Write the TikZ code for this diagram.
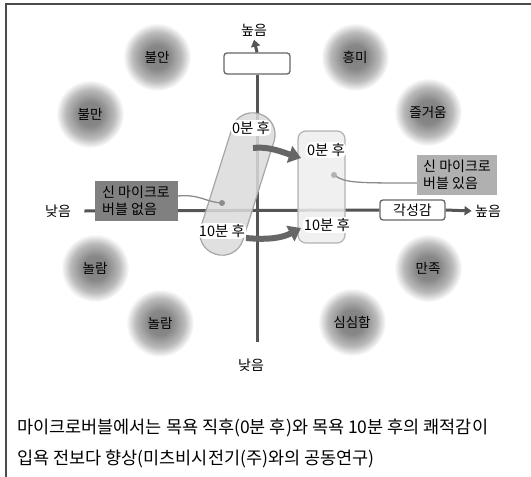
\documentclass[tikz,border=0pt]{standalone}
\usepackage{fontspec}
\setmainfont{Noto Sans CJK KR}
\usetikzlibrary{arrows.meta,shapes.misc}
\pgfdeclareradialshading{blob}{\pgfpointorigin}{color(0bp)=(black!50); color(9bp)=(black!47); color(18bp)=(black!27); color(25bp)=(white); color(50bp)=(white)}
\definecolor{axisc}{HTML}{555555}
\definecolor{darkbox}{HTML}{808080}
\definecolor{lightbox}{HTML}{B0B0B0}
\begin{document}
\begin{tikzpicture}[x=1pt,y=-1pt,
  emo/.style={circle,minimum size=68pt,inner sep=0pt,shading=blob,font=\fontsize{13.5}{15}\selectfont},
  axisline/.style={line width=3pt,draw=axisc},
  wbox/.style={draw=black!60,line width=1.3pt,fill=white,rounded corners=3pt,inner sep=0pt},
  tlabel/.style={fill=white,rounded corners=6pt,inner sep=1.2pt,font=\fontsize{14.5}{16}\selectfont},
  note/.style={inner sep=2pt,align=left,text=black,font=\fontsize{14}{17}\selectfont},
  bigarrow/.style={line width=6pt,draw=black!60,-{Triangle[length=12pt,width=17pt]}},
  pointer/.style={draw=black!45,line width=1.3pt},
  txt/.style={font=\fontsize{14}{16}\selectfont}]
\useasboundingbox (0,0) rectangle (531,477);
% frame
\draw[line width=2pt,draw=black!70] (6,477) -- (6,4) -- (531,4);
% emotion blobs
\node[emo] (anx) at (157,57) {불안};
\node[emo] (int) at (355,57) {흥미};
\node[emo] (dis) at (90,114) {불만};
\node[emo] (joy) at (428,112) {즐거움};
\node[emo] (sur1) at (95,268) {놀람};
\node[emo] (sat) at (428,268) {만족};
\node[emo] (sur2) at (160,323) {놀람};
\node[emo] (bor) at (352,322) {심심함};
% axes
\node[txt] (vhigh) at (254,30) {높음};
\node[wbox,minimum width=66pt,minimum height=21pt] (vbox) at (257,63.5) {};
\node[txt] (vlow) at (251,365) {낮음};
\coordinate (vbot) at (257,342);
\draw[axisline] (vbox.south) -- (vbot);
\draw[axisline,-{Triangle[length=7pt,width=9pt]}] (vbox.north) -- (vhigh.south);
\node[txt] (hlow) at (58,211) {낮음};
\node[wbox,minimum width=65pt,minimum height=20pt,font=\fontsize{14}{16}\selectfont] (hbox) at (412.5,210) {각성감};
\node[txt] (hhigh) at (488,211) {높음};
\draw[axisline] (hlow.east) ++(10,0) coordinate (hstart) -- (hbox.west);
\draw[axisline,-{Triangle[length=7pt,width=9pt]}] (hbox.east) -- (hhigh.west);
% left capsule
\begin{scope}[shift={(237.5,184)},rotate=-17.5]
\draw[draw=black!35,line width=1.2pt,fill=black!14,fill opacity=0.85,rounded corners=21.5pt] (-22,-73.5) rectangle (22,73.5);
\end{scope}
% right rounded box
\draw[draw=black!30,line width=1.2pt,fill=black!7,fill opacity=0.85,rounded corners=8pt] (298,131) rectangle (345,243);
% time labels
\node[tlabel] (l0) at (251,128) {0분 후};
\node[tlabel] (l10) at (222,231) {10분 후};
\node[tlabel] (r0) at (326,150) {0분 후};
\node[tlabel] (r10) at (327,225) {10분 후};
% transition arrows
\draw[bigarrow] (253,148) .. controls (268,146) and (282,152) .. (301,158);
\draw[bigarrow] (246,238) .. controls (268,240) and (282,238) .. (301,228);
% notes
\node[note,fill=darkbox,minimum width=83pt,minimum height=40pt] (without) at (136,201) {신 마이크로\\버블 없음};
\node[note,fill=lightbox,minimum width=80pt,minimum height=40pt] (with) at (457,175) {신 마이크로\\버블 있음};
\coordinate (dotl) at (222,203);
\coordinate (dotr) at (334,175);
\draw[pointer] (without.east|-0,196) .. controls (200,194) and (205,202) .. (dotl);
\fill[black!45] (dotl) circle (3pt);
\draw[pointer] (dotr) .. controls (345,183) and (355,183) .. (with.west|-0,183);
\fill[black!30] (dotr) circle (3pt);
% caption
\node[anchor=west,inner sep=0pt,font=\fontsize{17.5}{19}\selectfont] (cap1) at (17,428) {마이크로버블에서는 목욕 직후(0분 후)와 목욕 10분 후의 쾌적감이};
\node[anchor=west,inner sep=0pt,font=\fontsize{17.5}{19}\selectfont] (cap2) at (17,459) {입욕 전보다 향상(미츠비시전기(주)와의 공동연구)};
\end{tikzpicture}
\end{document}
